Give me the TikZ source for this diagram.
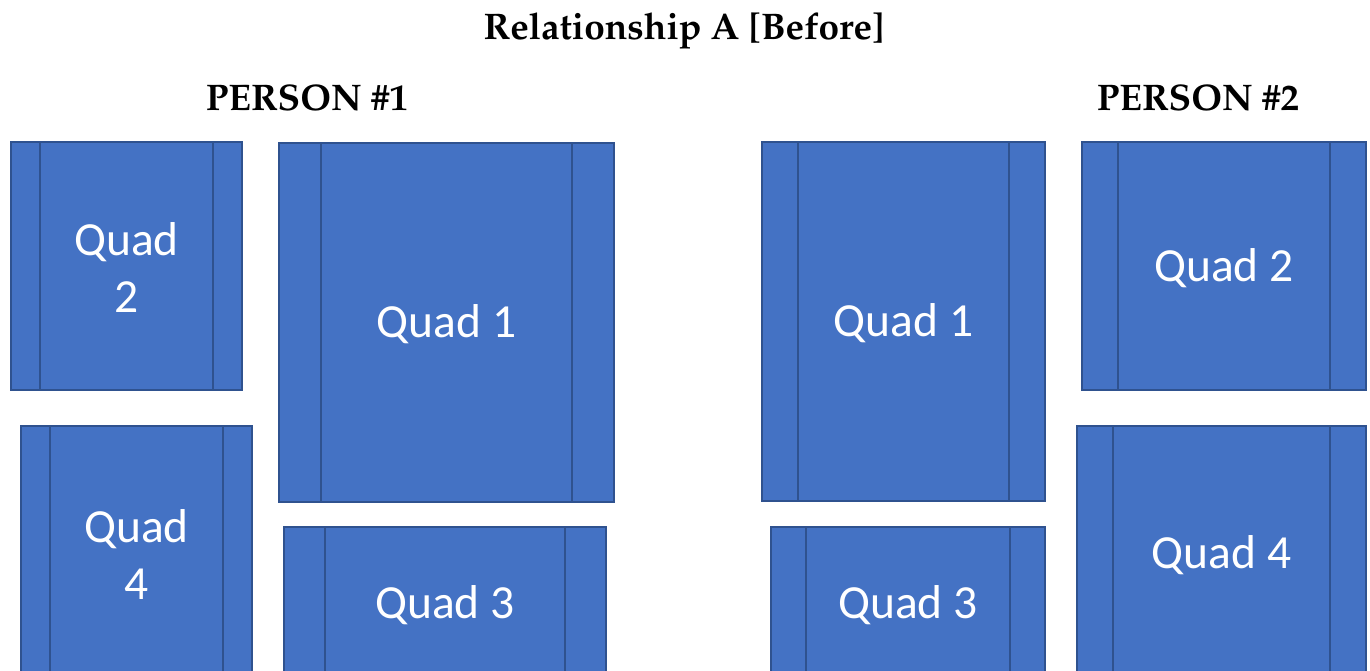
\documentclass[tikz,border=0pt]{standalone}
\usepackage[T1]{fontenc}
\usepackage{fontspec}
\newfontfamily\quadfont{Carlito}
\newcommand{\palbold}{\fontencoding{T1}\fontfamily{ppl}\fontseries{b}\selectfont}
\definecolor{qfill}{HTML}{4472C4}
\definecolor{qdraw}{HTML}{2F528F}
\tikzset{
  qbox/.style={rectangle, fill=qfill, draw=qdraw, line width=2.2pt, inner sep=0pt, outer sep=0pt,
    text=white, align=center, font={\quadfont\fontsize{47.5}{57}\selectfont}},
  qline/.style={draw=qdraw, line width=2.2pt},
  ttl/.style={inner sep=0pt, font={\palbold\fontsize{37}{44}\selectfont}}
}
% \qbox{name}{x1}{y1}{x2}{y2}{offset}{text}
\newcommand{\qbox}[7]{%
  \node[qbox, minimum width={#4pt-#2pt}, minimum height={#5pt-#3pt}] (#1) at ({(#2+#4)/2},{(#3+#5)/2}) {};
  \node[qbox, draw=none, fill=none] (#1t) at ([yshift=-2pt]#1.center) {#7};
  \draw[qline] ([xshift=#6pt]#1.north west) -- ([xshift=#6pt]#1.south west);
  \draw[qline] ([xshift=-#6pt]#1.north east) -- ([xshift=-#6pt]#1.south east);
}
\begin{document}
\begin{tikzpicture}[x=1pt,y=-1pt]
\useasboundingbox (0,0) rectangle (1370,670);
\clip (0,0) rectangle (1370,670);
\node[ttl] (title) at (684,31) {Relationship A [Before]};
\node[ttl] (p1) at (307,98) {PERSON \#1};
\node[ttl] (p2) at (1198,98) {PERSON \#2};
\qbox{aq2}{11}{142}{242}{390}{29}{Quad\\2}
\qbox{aq1}{279}{143}{614}{502}{42}{Quad 1}
\qbox{aq4}{21}{426}{252}{679}{29}{Quad\\4}
\qbox{aq3}{284}{527}{606}{679}{41}{Quad 3}
\qbox{bq1}{762}{142}{1045}{501}{36}{Quad 1}
\qbox{bq2}{1082}{142}{1366}{390}{36}{Quad 2}
\qbox{bq3}{771}{527}{1045}{679}{35}{Quad 3}
\qbox{bq4}{1077}{426}{1366}{680}{36}{Quad 4}
\end{tikzpicture}
\end{document}
